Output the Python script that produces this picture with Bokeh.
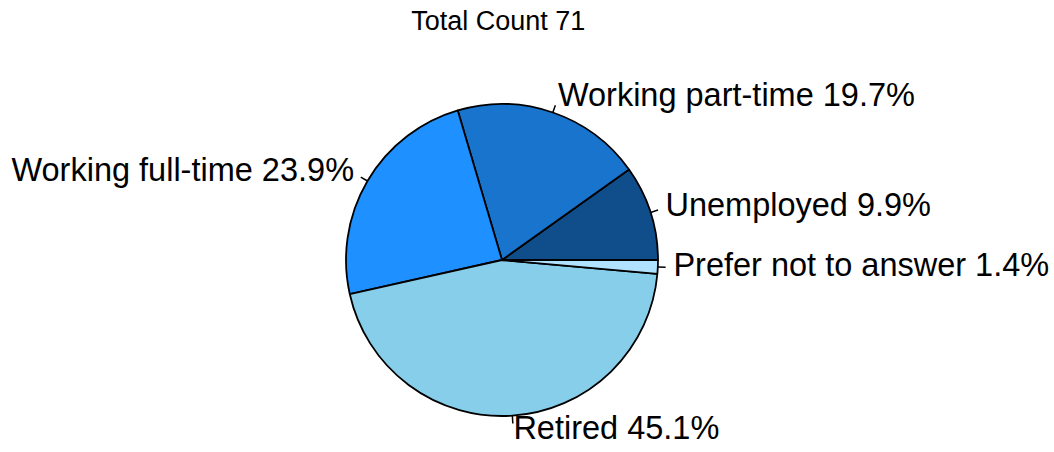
import math
from bokeh.plotting import figure
from bokeh.models import Range1d, ColumnDataSource
from bokeh.core.properties import value
from bokeh.embed import file_html
from bokeh.resources import INLINE

categories = ["Unemployed", "Working part-time", "Working full-time", "Retired", "Prefer not to answer"]
counts = [7, 14, 17, 32, 1]
colors = ["#104E8B", "#1874CD", "#1E90FF", "#87CEEB", "#B0E2FF"]
title_text = "Total Count  71"

W, H = 1054, 452
R_PX = 156.0
CX, CY = 501.5, 259.5  # pie centre in pixels (from top-left)

p = figure(width=W, height=H, output_backend="svg", toolbar_location=None,
           min_border=0, x_range=Range1d(-CX / R_PX, (W - CX) / R_PX),
           y_range=Range1d(-(H - CY) / R_PX, CY / R_PX))
p.axis.visible = False
p.grid.visible = False
p.outline_line_color = None
p.background_fill_color = "white"
p.border_fill_color = "white"

total = sum(counts)
starts, ends, mids, labels = [], [], [], []
acc = 0.0
for c, n in zip(categories, counts):
    a0 = 2 * math.pi * acc / total
    acc += n
    a1 = 2 * math.pi * acc / total
    starts.append(a0)
    ends.append(a1)
    mids.append((a0 + a1) / 2)
    labels.append(f"{c} {100 * n / total:.1f}%")

src = ColumnDataSource(dict(start=starts, end=ends, color=colors))
p.wedge(x=0, y=0, radius=1.0, start_angle="start", end_angle="end", direction="anticlock",
        fill_color="color", line_color="black", line_width=1.8, source=src)

x0 = [math.cos(m) for m in mids]
y0 = [math.sin(m) for m in mids]
x1 = [1.05 * math.cos(m) for m in mids]
y1 = [1.05 * math.sin(m) for m in mids]
p.segment(x0=x0, y0=y0, x1=x1, y1=y1, line_color="black", line_width=1.5)

lx = [1.1 * math.cos(m) for m in mids]
ly = [1.1 * math.sin(m) for m in mids]
align = ["left" if math.cos(m) > 0 else "right" for m in mids]
lsrc = ColumnDataSource(dict(x=lx, y=ly, text=labels, align=align))
p.text(x="x", y="y", text="text", text_align="align", text_baseline="middle",
       text_font=value("Liberation Sans"), text_font_size="32.5px", text_color="black",
       y_offset=-3, source=lsrc)

p.text(x=[0], y=[(CY - 20) / R_PX], text=[title_text], text_align="center", text_baseline="middle",
       text_font=value("Liberation Sans"), text_font_size="27px", text_color="black")

open("out.html", "w").write(file_html(p, INLINE))
